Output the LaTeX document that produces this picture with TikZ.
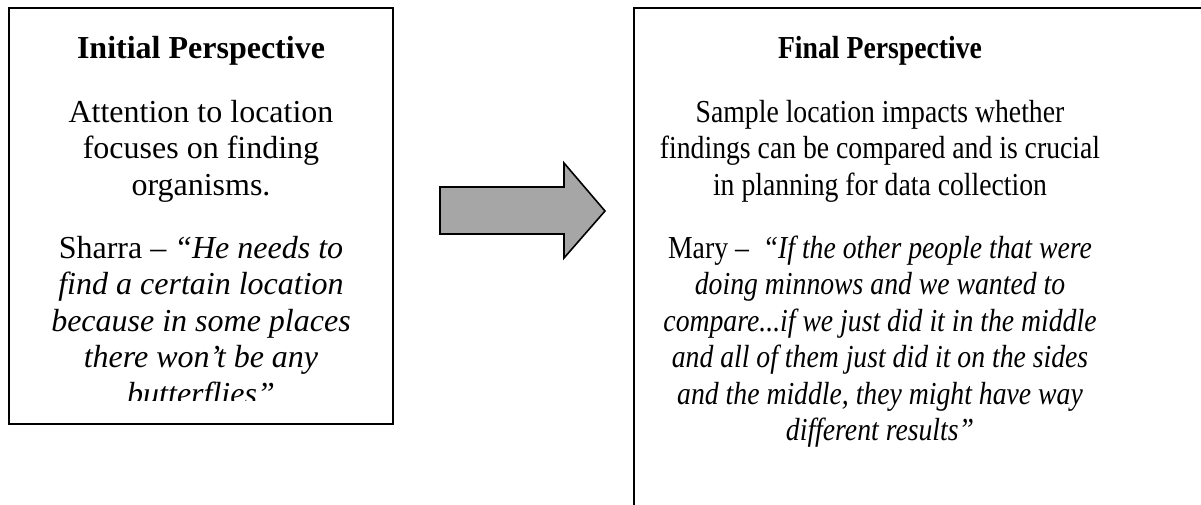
\documentclass[tikz,border=0pt]{standalone}
\usepackage{fontspec}
\setmainfont{Liberation Serif}
\begin{document}
\begin{tikzpicture}[x=1pt,y=-1pt,
  txt/.style={anchor=base,inner sep=0pt,font=\fontsize{32}{36.5}\selectfont},
  ttl/.style={txt,font=\fontsize{32}{36.5}\selectfont\bfseries},
  frame/.style={draw=black,line width=2.2pt},
  bigarrow/.style={draw=black,line width=1.6pt,fill=arrowgray,line join=miter}]
\definecolor{arrowgray}{HTML}{A6A6A6}
\useasboundingbox (0,0) rectangle (1201,504);
% left box
\draw[frame] (9,8) rectangle (393,424);
\node[ttl] (lt) at (201,58) {Initial Perspective};
\node[txt] (l1) at (201,122) {Attention to location};
\node[txt] (l2) at (201,158.5) {focuses on finding};
\node[txt] (l3) at (201,195) {organisms.};
\begin{scope}
\clip (9,8) rectangle (393,400);
\node[txt] (q1) at (201,258) {Sharra – \textit{“He needs to}};
\node[txt] (q2) at (201,294.5) {\textit{find a certain location}};
\node[txt] (q3) at (201,331) {\textit{because in some places}};
\node[txt] (q4) at (201,367.5) {\textit{there won’t be any}};
\node[txt] (q5) at (201,404) {\textit{butterflies”}};
\end{scope}
% arrow
\draw[bigarrow] (440,187) -- (564,187) -- (564,163) -- (605,211) -- (564,258) -- (564,234) -- (440,234) -- cycle;
% right box
\draw[frame] (1203,8) -- (634,8) -- (634,506);
\begin{scope}[shift={(880,0)},xscale=0.866,every node/.append style={transform shape}]
\node[ttl] (rt) at (0,58) {Final Perspective};
\node[txt] (r1) at (0,122) {Sample location impacts whether};
\node[txt] (r2) at (0,158.5) {findings can be compared and is crucial};
\node[txt] (r3) at (0,195) {in planning for data collection};
\node[txt] (m1) at (0,258) {Mary – \ \textit{“If the other people that were}};
\node[txt] (m2) at (0,294.5) {\textit{doing minnows and we wanted to}};
\node[txt] (m3) at (0,331) {\textit{compare...if we just did it in the middle}};
\node[txt] (m4) at (0,367.5) {\textit{and all of them just did it on the sides}};
\node[txt] (m5) at (0,404) {\textit{and the middle, they might have way}};
\node[txt] (m6) at (0,440.5) {\textit{different results”}};
\end{scope}
\end{tikzpicture}
\end{document}
